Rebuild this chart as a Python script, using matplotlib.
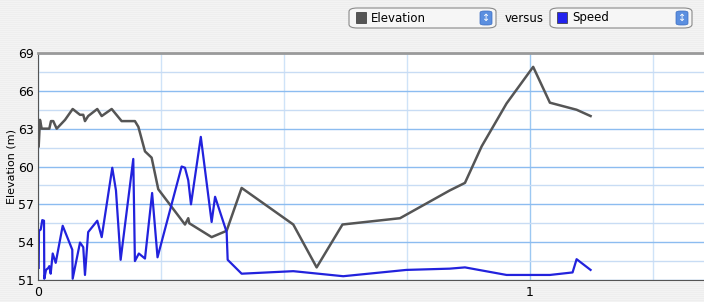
import matplotlib.pyplot as plt
import matplotlib.patches as mpatches
import numpy as np

# distance (x) and values
elev_x = [0.0014, 0.004, 0.0075, 0.023, 0.0264, 0.031, 0.038, 0.055, 0.0705, 0.0854,
          0.092, 0.0955, 0.102, 0.1205, 0.1295, 0.1498, 0.170, 0.197, 0.204, 0.2175,
          0.231, 0.2445, 0.2988, 0.3055, 0.3075, 0.353, 0.3835, 0.414, 0.519, 0.5665,
          0.619, 0.736, 0.837, 0.868, 0.902, 0.9526, 1.0067, 1.0407, 1.095, 1.1234]
elev_y = [61.6, 63.7, 63.0, 63.0, 63.6, 63.6, 63.0, 63.7, 64.56, 64.1,
          64.1, 63.6, 64.0, 64.56, 64.0, 64.56, 63.6, 63.6, 63.15, 61.2,
          60.7, 58.2, 55.4, 55.9, 55.5, 54.4, 54.9, 58.3, 55.4, 52.0,
          55.4, 55.9, 58.1, 58.7, 61.6, 65.0, 67.9, 65.06, 64.5, 64.0]

speed_x = [0.0014, 0.002, 0.0055, 0.0087, 0.0122, 0.0128, 0.0163, 0.021, 0.023, 0.0258,
           0.0299, 0.036, 0.0502, 0.0697, 0.0705, 0.0854, 0.092, 0.0955, 0.102, 0.1205,
           0.1295, 0.151, 0.1585, 0.168, 0.1937, 0.197, 0.205, 0.2175, 0.232, 0.243,
           0.292, 0.2988, 0.3055, 0.311, 0.331, 0.353, 0.36, 0.3835, 0.3856, 0.414,
           0.519, 0.6205, 0.749, 0.837, 0.868, 0.9526, 1.0407, 1.0868, 1.095, 1.1234]
speed_y = [51.96, 54.9, 55.0, 55.75, 55.7, 51.1, 51.8, 51.96, 52.1, 51.5,
           53.1, 52.36, 55.3, 53.4, 51.1, 53.97, 53.6, 51.4, 54.8, 55.7,
           54.4, 59.9, 58.1, 52.6, 60.6, 52.5, 53.1, 52.7, 57.9, 52.8,
           60.0, 59.9, 58.9, 57.0, 62.35, 55.6, 57.6, 54.8, 52.6, 51.5,
           51.7, 51.3, 51.8, 51.9, 52.0, 51.4, 51.4, 51.6, 52.65, 51.8]

y_ticks = [51, 54, 57, 60, 63, 66, 69]
x_labels = ["0", "1"]

bg = "#ececec"
fig = plt.figure(figsize=(7.04, 3.02), dpi=100, facecolor=bg)

# aqua-style pinstripes behind everything
stripes = fig.add_axes([0, 0, 1, 1], zorder=-10)
stripes.imshow(np.tile([[0.93], [0.95]], (151, 1)), cmap="gray", vmin=0, vmax=1,
               aspect="auto", extent=[0, 1, 0, 1])
stripes.axis("off")

ax = fig.add_axes([38 / 704, 22 / 302, 666 / 704, 227 / 302])
ax.set_facecolor("white")
ax.set_xlim(0, 1.354)
ax.set_ylim(51, 69)

ax.set_yticks(y_ticks)
ax.set_yticks(np.arange(52.5, 69, 3), minor=True)
ax.set_xticks([0, 1])
ax.set_xticklabels(x_labels)
ax.set_xticks([0.25, 0.5, 0.75, 1.25], minor=True)
ax.tick_params(which="both", length=0, labelsize=9, pad=3)
ax.tick_params(axis="x", pad=4)

ax.grid(axis="y", which="major", color="#8cbcf0", lw=1)
ax.grid(axis="y", which="minor", color="#c8dcf4", lw=1)
ax.grid(axis="x", which="major", color="#9cc8f2", lw=1)
ax.grid(axis="x", which="minor", color="#cfe3f8", lw=1)
ax.set_axisbelow(True)

ax.spines["right"].set_visible(False)
ax.spines["top"].set_color("#9a9a9a")
ax.spines["top"].set_linewidth(2)
ax.spines["left"].set_color("#555555")
ax.spines["bottom"].set_color("#555555")

ax.plot(elev_x, elev_y, color="#555555", lw=1.8)
ax.plot(speed_x, speed_y, color="#2222dd", lw=1.6)
ax.set_ylabel("Elevation (m)", fontsize=8)
ax.yaxis.set_label_coords(-0.032, 0.5)

# popup buttons at the top
def popup(x0, w, color, label):
    box = mpatches.FancyBboxPatch((x0 / 704, 274 / 302), w / 704, 20 / 302,
                                  boxstyle="round,pad=0,rounding_size=0.012",
                                  transform=fig.transFigure, facecolor="#f6f6f6",
                                  edgecolor="#8a8a8a", lw=0.8)
    fig.patches.append(box)
    fig.patches.append(mpatches.Rectangle(((x0 + 7) / 704, 279 / 302), 10 / 704, 11 / 302,
                                          transform=fig.transFigure, facecolor=color,
                                          edgecolor="#333333", lw=0.5))
    fig.patches.append(mpatches.FancyBboxPatch(((x0 + w - 16) / 704, 277 / 302), 12 / 704, 14 / 302,
                                               boxstyle="round,pad=0,rounding_size=0.006",
                                               transform=fig.transFigure, facecolor="#5b8fe0",
                                               edgecolor="#3a6cc0", lw=0.5))
    fig.text((x0 + w - 10) / 704, 284 / 302, "\u2195", color="white", fontsize=7,
             ha="center", va="center")
    fig.text((x0 + 22) / 704, 284 / 302, label, fontsize=8.5, ha="left", va="center")

popup(349, 147, "#555555", "Elevation")
popup(550, 142, "#2222ee", "Speed")
fig.text(524 / 704, 284 / 302, "versus", fontsize=8.5, ha="center", va="center")

fig.savefig("out.png", dpi=100, facecolor=bg)
